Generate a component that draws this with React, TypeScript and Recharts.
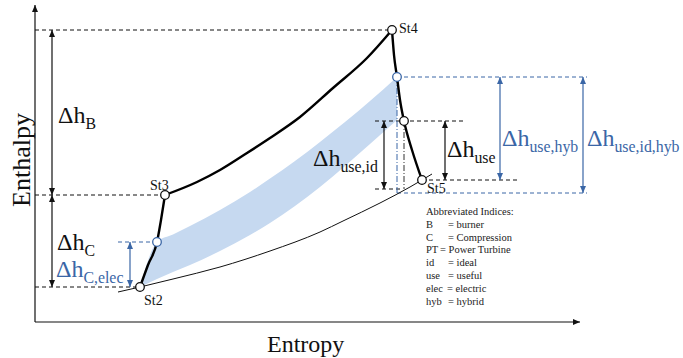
import React from "react";
import {
  ComposedChart,
  XAxis,
  YAxis,
  Line,
  Area,
  Scatter,
  ReferenceLine,
  ReferenceDot
} from "recharts";

// h-s diagram of the cycle, in plot units (entropy -> x, enthalpy -> y, y grows downwards)
const compression = [
  { x: 140, y: 287 },
  { x: 148, y: 265 },
  { x: 157, y: 242 },
  { x: 161, y: 220 },
  { x: 165, y: 195 }
];

const combustion = [
  { x: 165, y: 195 },
  { x: 197, y: 182 },
  { x: 220, y: 170 },
  { x: 247, y: 153 },
  { x: 270, y: 138 },
  { x: 300, y: 117 },
  { x: 333, y: 88 },
  { x: 367, y: 58 },
  { x: 392, y: 30 }
];

const expansion = [
  { x: 392, y: 30 },
  { x: 394, y: 55 },
  { x: 397, y: 77 },
  { x: 400, y: 100 },
  { x: 404, y: 121 },
  { x: 412, y: 150 },
  { x: 422, y: 180 }
];

const ambientIsobar = [
  { x: 118, y: 292 },
  { x: 140, y: 287 },
  { x: 173, y: 279 },
  { x: 220, y: 267 },
  { x: 270, y: 251 },
  { x: 320, y: 232 },
  { x: 343, y: 221 },
  { x: 380, y: 203 },
  { x: 410, y: 187 },
  { x: 422, y: 180 },
  { x: 432, y: 174 }
];

const bandX = [140, 157, 173, 190, 220, 250, 270, 295, 320, 345, 370, 397];
const bandUpper = [287, 242, 234.5, 226, 210, 192, 178.5, 161, 142, 122, 101, 77];
const bandLower = [287, 279, 272, 265, 251, 235, 223, 206, 187, 166, 144, 120];
const band = bandX.map((x, i) => ({ x, range: [bandLower[i], bandUpper[i]] }));

const states = [
  { name: "St2", x: 140, y: 287 },
  { name: "St3", x: 165, y: 195 },
  { name: "St4", x: 392, y: 30 },
  { name: "St5", x: 422, y: 180 },
  { name: "", x: 404, y: 121 }
];
const hybridStates = [
  { x: 157, y: 242 },
  { x: 397, y: 77 }
];

// axes
const originX = 35;
const originY = 322;
const axisTop = 5;
const axisRight = 580;

// enthalpy levels
const hB = 30;
const h3 = 195;
const h2 = 287;
const hElec = 242;
const hHyb = 77;
const hUse = 121;
const h5 = 180;
const hId = 189;
const hIdHyb = 193;

const legendRows = [
  ["B", "= burner"],
  ["C", "= Compression"],
  ["PT", "= Power Turbine"],
  ["id", "= ideal"],
  ["use", "= useful"],
  ["elec", "= electric"],
  ["hyb", "= hybrid"]
];

const BLUE = "#3a66a6";
const FONT = "'Liberation Serif', 'Times New Roman', serif";

function head(x: number, y: number, ux: number, uy: number, color: string) {
  const L = 7;
  const w = 3;
  const bx = x - ux * L;
  const by = y - uy * L;
  return (
    <polygon
      points={`${x},${y} ${bx - uy * w},${by + ux * w} ${bx + uy * w},${by - ux * w}`}
      fill={color}
    />
  );
}

const arrow = (color: string, both: boolean) => (p: any) => {
  const { x1, y1, x2, y2 } = p;
  const len = Math.hypot(x2 - x1, y2 - y1) || 1;
  const ux = (x2 - x1) / len;
  const uy = (y2 - y1) / len;
  return (
    <g>
      <line x1={x1} y1={y1} x2={x2} y2={y2} stroke={color} strokeWidth={1.2} />
      {head(x2, y2, ux, uy, color)}
      {both && head(x1, y1, -ux, -uy, color)}
    </g>
  );
};

const circle = (color: string) => (p: any) => (
  <circle cx={p.cx} cy={p.cy} r={4.3} fill="#fff" stroke={color} strokeWidth={1.3} />
);

const delta = (main: string, sub: string, color: string, size = 24) => (p: any) => (
  <text x={p.cx} y={p.cy} fill={color} fontFamily={FONT} fontSize={size}>
    {main}
    <tspan fontSize={size * 0.66} dy={size * 0.25}>
      {sub}
    </tspan>
  </text>
);

const plain = (t: string, size: number, rotate = false) => (p: any) => (
  <text
    x={p.cx}
    y={p.cy}
    fontFamily={FONT}
    fontSize={size}
    fill="#111"
    textAnchor={rotate ? "middle" : "start"}
    transform={rotate ? `rotate(-90 ${p.cx} ${p.cy})` : undefined}
  >
    {t}
  </text>
);

const legend = (p: any) => (
  <text x={p.cx} y={p.cy} fontFamily={FONT} fontSize={10.5} fill="#222">
    <tspan x={p.cx}>Abbreviated Indices:</tspan>
    {legendRows.map(([k, v], i) => (
      <React.Fragment key={k}>
        <tspan x={p.cx} y={p.cy + 12.8 * (i + 1)}>
          {k}
        </tspan>
        <tspan x={p.cx + (k === "PT" ? 14 : k === "elec" ? 21 : 22)}>{v}</tspan>
      </React.Fragment>
    ))}
  </text>
);

const dashed = { stroke: "#111", strokeDasharray: "4 3", strokeWidth: 1 };
const blueDashed = { stroke: BLUE, strokeDasharray: "4 3", strokeWidth: 1 };

export default function App() {
  return (
    <div style={{ position: "absolute", left: 0, top: 0, background: "#fff" }}>
      <ComposedChart width={683} height={358} margin={{ top: 0, right: 0, bottom: 0, left: 0 }}>
        <XAxis type="number" dataKey="x" domain={[0, 683]} hide allowDataOverflow />
        <YAxis type="number" dataKey="y" domain={[0, 358]} reversed hide allowDataOverflow />

        <Area
          data={band}
          dataKey="range"
          type="monotone"
          stroke="none"
          fill="#c6d9f0"
          fillOpacity={1}
          dot={false}
          activeDot={false}
          isAnimationActive={false}
        />

        {/* level lines */}
        <ReferenceLine segment={[{ x: originX, y: hB }, { x: 392, y: hB }]} {...dashed} />
        <ReferenceLine segment={[{ x: originX, y: h3 }, { x: 165, y: h3 }]} {...dashed} />
        <ReferenceLine segment={[{ x: originX, y: h2 }, { x: 140, y: h2 }]} {...dashed} />
        <ReferenceLine segment={[{ x: 118, y: hElec }, { x: 157, y: hElec }]} {...blueDashed} />
        <ReferenceLine segment={[{ x: 397, y: hHyb }, { x: 587, y: hHyb }]} {...blueDashed} />
        <ReferenceLine segment={[{ x: 375, y: hUse }, { x: 463, y: hUse }]} {...dashed} />
        <ReferenceLine segment={[{ x: 422, y: h5 }, { x: 517, y: h5 }]} {...dashed} />
        <ReferenceLine segment={[{ x: 375, y: hId }, { x: 400, y: hId }]} {...dashed} />
        <ReferenceLine segment={[{ x: 397, y: hIdHyb }, { x: 587, y: hIdHyb }]} {...blueDashed} />
        <ReferenceLine
          segment={[{ x: 397, y: hHyb }, { x: 397, y: hIdHyb }]}
          stroke={BLUE}
          strokeDasharray="6 2 1 2"
        />
        <ReferenceLine
          segment={[{ x: 404, y: hUse }, { x: 404, y: hId }]}
          stroke="#333"
          strokeDasharray="6 2 1 2"
        />

        {/* axes */}
        <ReferenceLine
          segment={[{ x: originX, y: originY }, { x: originX, y: axisTop }]}
          shape={arrow("#111", false)}
        />
        <ReferenceLine
          segment={[{ x: originX, y: originY }, { x: axisRight, y: originY }]}
          shape={arrow("#111", false)}
        />

        {/* enthalpy differences */}
        <ReferenceLine segment={[{ x: 52, y: hB }, { x: 52, y: h3 }]} shape={arrow("#111", true)} />
        <ReferenceLine segment={[{ x: 52, y: h3 }, { x: 52, y: h2 }]} shape={arrow("#111", true)} />
        <ReferenceLine segment={[{ x: 130, y: hElec }, { x: 130, y: h2 }]} shape={arrow(BLUE, true)} />
        <ReferenceLine segment={[{ x: 384, y: hUse }, { x: 384, y: hId }]} shape={arrow("#111", true)} />
        <ReferenceLine segment={[{ x: 445, y: hUse }, { x: 445, y: h5 }]} shape={arrow("#111", true)} />
        <ReferenceLine segment={[{ x: 500, y: hHyb }, { x: 500, y: h5 }]} shape={arrow(BLUE, true)} />
        <ReferenceLine segment={[{ x: 583, y: hHyb }, { x: 583, y: hIdHyb }]} shape={arrow(BLUE, true)} />

        <Line data={ambientIsobar} dataKey="y" type="monotone" stroke="#111" strokeWidth={1} dot={false} activeDot={false} isAnimationActive={false} />
        <Line data={compression} dataKey="y" type="monotone" stroke="#000" strokeWidth={2.4} dot={false} activeDot={false} isAnimationActive={false} />
        <Line data={combustion} dataKey="y" type="monotone" stroke="#000" strokeWidth={2.4} dot={false} activeDot={false} isAnimationActive={false} />
        <Line data={expansion} dataKey="y" type="monotone" stroke="#000" strokeWidth={2.4} dot={false} activeDot={false} isAnimationActive={false} />

        <Scatter data={states} dataKey="y" shape={circle("#111")} isAnimationActive={false} />
        <Scatter data={hybridStates} dataKey="y" shape={circle(BLUE)} isAnimationActive={false} />

        {/* state names */}
        <ReferenceDot x={144} y={305} r={0} shape={plain("St2", 14)} />
        <ReferenceDot x={150} y={190} r={0} shape={plain("St3", 14)} />
        <ReferenceDot x={399} y={33} r={0} shape={plain("St4", 14)} />
        <ReferenceDot x={427} y={193} r={0} shape={plain("St5", 14)} />

        {/* delta labels */}
        <ReferenceDot x={58} y={123} r={0} shape={delta("\u0394h", "B", "#111")} />
        <ReferenceDot x={57} y={250} r={0} shape={delta("\u0394h", "C", "#111")} />
        <ReferenceDot x={56} y={277} r={0} shape={delta("\u0394h", "C,elec", BLUE)} />
        <ReferenceDot x={313} y={166} r={0} shape={delta("\u0394h", "use,id", "#111")} />
        <ReferenceDot x={447} y={157} r={0} shape={delta("\u0394h", "use", "#111")} />
        <ReferenceDot x={502} y={146} r={0} shape={delta("\u0394h", "use,hyb", BLUE)} />
        <ReferenceDot x={587} y={146} r={0} shape={delta("\u0394h", "use,id,hyb", BLUE)} />

        {/* axis titles */}
        <ReferenceDot x={30} y={160} r={0} shape={plain("Enthalpy", 26, true)} />
        <ReferenceDot x={267} y={352} r={0} shape={plain("Entropy", 24)} />

        <ReferenceDot x={426} y={215} r={0} shape={legend} />
      </ComposedChart>
    </div>
  );
}
